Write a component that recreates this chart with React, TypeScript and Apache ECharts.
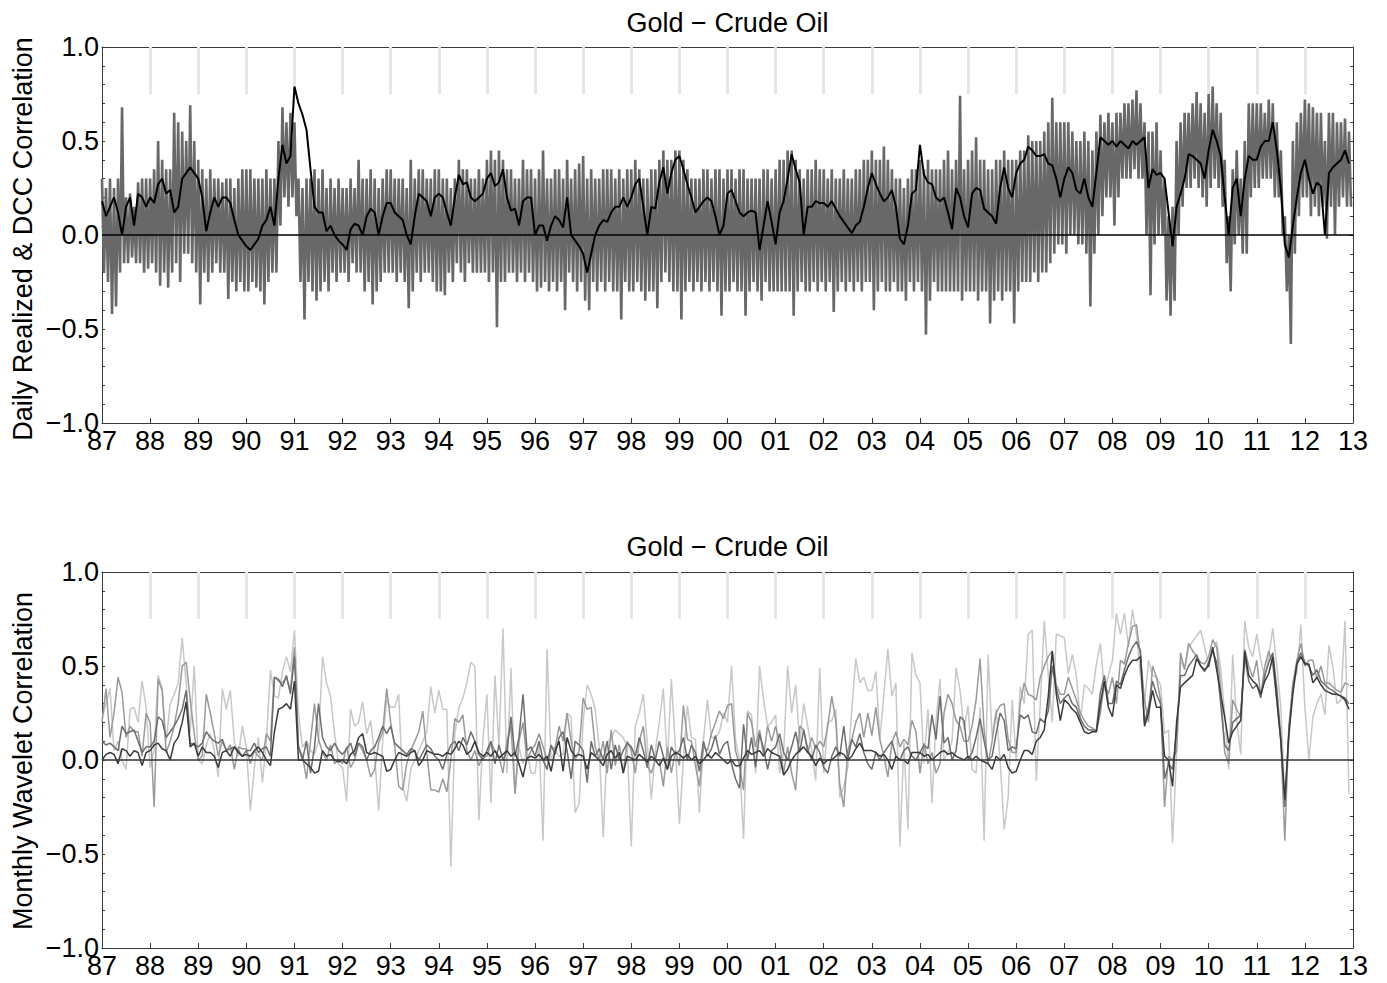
import React, { useEffect, useRef } from 'react';
import * as echarts from 'echarts';

// ---------- data (monthly, Jan 1987 .. Dec 2012) ----------
const START_YEAR = 1987;
const X_MIN = 1987;
const X_MAX = 2013;
const YEAR_MARKS = [1988, 1989, 1990, 1991, 1992, 1993, 1994, 1995, 1996, 1997, 1998, 1999, 2000,
  2001, 2002, 2003, 2004, 2005, 2006, 2007, 2008, 2009, 2010, 2011, 2012];
const TITLE = 'Gold \u2212 Crude Oil';
const Y_NAME_TOP = 'Daily Realized & DCC Correlation';
const Y_NAME_BOTTOM = 'Monthly Wavelet Correlation';

// DCC correlation (black line, top panel)
const DCC = [
  0.18, 0.1, 0.15, 0.2, 0.12, 0.0, 0.15, 0.2, 0.05, 0.22, 0.2, 0.15,
  0.2, 0.17, 0.27, 0.3, 0.22, 0.24, 0.12, 0.15, 0.3, 0.33, 0.36, 0.33,
  0.3, 0.2, 0.02, 0.12, 0.2, 0.15, 0.2, 0.2, 0.17, 0.08, 0.0, -0.03,
  -0.06, -0.08, -0.05, -0.02, 0.05, 0.08, 0.15, 0.05, 0.3, 0.48, 0.38, 0.42,
  0.79, 0.7, 0.64, 0.56, 0.35, 0.15, 0.12, 0.12, 0.02, 0.05, 0.0, -0.03,
  -0.05, -0.08, 0.03, 0.06, 0.05, 0.0, 0.1, 0.14, 0.12, 0.0, 0.1, 0.17,
  0.17, 0.12, 0.1, 0.08, 0.0, -0.05, 0.1, 0.22, 0.2, 0.18, 0.1, 0.2,
  0.22, 0.2, 0.12, 0.05, 0.2, 0.32, 0.27, 0.28, 0.2, 0.18, 0.2, 0.22,
  0.3, 0.33, 0.26, 0.28, 0.35, 0.2, 0.13, 0.14, 0.05, 0.18, 0.2, 0.2,
  0.0, 0.05, 0.05, -0.03, 0.05, 0.1, 0.08, 0.04, 0.2, 0.0, -0.03, -0.06,
  -0.1, -0.2, -0.1, 0.0, 0.05, 0.08, 0.07, 0.12, 0.15, 0.15, 0.2, 0.15,
  0.2, 0.27, 0.3, 0.15, 0.0, 0.15, 0.14, 0.28, 0.36, 0.22, 0.33, 0.4,
  0.42, 0.35, 0.27, 0.2, 0.12, 0.15, 0.18, 0.2, 0.18, 0.1, 0.0, 0.05,
  0.22, 0.24, 0.18, 0.12, 0.1, 0.12, 0.13, 0.12, -0.08, 0.05, 0.18, 0.07,
  -0.05, 0.12, 0.18, 0.3, 0.43, 0.35, 0.28, 0.0, 0.15, 0.15, 0.18, 0.17,
  0.17, 0.15, 0.18, 0.14, 0.1, 0.07, 0.04, 0.01, 0.05, 0.07, 0.15, 0.25,
  0.33, 0.27, 0.22, 0.18, 0.2, 0.24, 0.15, -0.02, -0.05, 0.05, 0.22, 0.24,
  0.48, 0.32, 0.28, 0.27, 0.2, 0.18, 0.2, 0.12, 0.03, 0.25, 0.2, 0.1,
  0.04, 0.22, 0.25, 0.24, 0.14, 0.12, 0.1, 0.06, 0.25, 0.36, 0.25, 0.2,
  0.33, 0.38, 0.4, 0.47, 0.45, 0.42, 0.42, 0.43, 0.38, 0.37, 0.3, 0.2,
  0.3, 0.36, 0.33, 0.24, 0.22, 0.3, 0.2, 0.15, 0.33, 0.52, 0.5, 0.48,
  0.5, 0.47, 0.5, 0.48, 0.46, 0.5, 0.48, 0.5, 0.52, 0.25, 0.35, 0.32,
  0.33, 0.3, 0.12, -0.06, 0.15, 0.22, 0.3, 0.43, 0.42, 0.4, 0.38, 0.3,
  0.45, 0.56, 0.5, 0.42, 0.2, 0.0, 0.25, 0.3, 0.1, 0.3, 0.42, 0.4,
  0.4, 0.47, 0.5, 0.5, 0.6, 0.45, 0.25, -0.05, -0.12, 0.05, 0.2, 0.33,
  0.4, 0.3, 0.22, 0.28, 0.26, 0.0, 0.33, 0.36, 0.38, 0.4, 0.45, 0.38,
];

// Daily realized correlation: monthly upper and lower extent of the gray band
const RC_HIGH = [
  0.3, 0.25, 0.3, 0.25, 0.3, 0.68, 0.2, 0.22, 0.15, 0.28, 0.3, 0.3,
  0.3, 0.35, 0.5, 0.4, 0.35, 0.35, 0.65, 0.6, 0.55, 0.5, 0.69, 0.5,
  0.4, 0.35, 0.3, 0.35, 0.3, 0.3, 0.28, 0.3, 0.3, 0.25, 0.3, 0.35,
  0.35, 0.35, 0.3, 0.3, 0.3, 0.35, 0.3, 0.3, 0.5, 0.68, 0.6, 0.65,
  0.6, 0.3, 0.25, 0.3, 0.3, 0.35, 0.3, 0.35, 0.25, 0.3, 0.25, 0.3,
  0.25, 0.25, 0.3, 0.25, 0.4, 0.3, 0.3, 0.35, 0.3, 0.25, 0.3, 0.35,
  0.35, 0.3, 0.3, 0.3, 0.25, 0.4, 0.3, 0.35, 0.35, 0.3, 0.3, 0.35,
  0.35, 0.3, 0.3, 0.25, 0.3, 0.4, 0.35, 0.35, 0.3, 0.3, 0.35, 0.3,
  0.4, 0.45, 0.4, 0.45, 0.4, 0.35, 0.35, 0.3, 0.3, 0.4, 0.35, 0.35,
  0.3, 0.35, 0.45, 0.3, 0.3, 0.35, 0.35, 0.3, 0.4, 0.3, 0.35, 0.38,
  0.42, 0.3, 0.35, 0.3, 0.3, 0.35, 0.35, 0.35, 0.3, 0.35, 0.3, 0.35,
  0.35, 0.4, 0.35, 0.3, 0.3, 0.35, 0.35, 0.4, 0.45, 0.4, 0.4, 0.45,
  0.45, 0.4, 0.35, 0.3, 0.3, 0.3, 0.35, 0.35, 0.3, 0.35, 0.35, 0.3,
  0.35, 0.35, 0.3, 0.35, 0.35, 0.3, 0.3, 0.3, 0.3, 0.35, 0.35, 0.3,
  0.35, 0.4, 0.4, 0.45, 0.45, 0.4, 0.35, 0.3, 0.35, 0.35, 0.4, 0.35,
  0.35, 0.3, 0.35, 0.3, 0.3, 0.35, 0.3, 0.3, 0.35, 0.35, 0.4, 0.4,
  0.45, 0.4, 0.4, 0.47, 0.4, 0.35, 0.3, 0.3, 0.25, 0.3, 0.35, 0.35,
  0.4, 0.35, 0.4, 0.35, 0.35, 0.35, 0.4, 0.45, 0.35, 0.4, 0.74, 0.35,
  0.4, 0.45, 0.52, 0.4, 0.4, 0.35, 0.35, 0.4, 0.4, 0.45, 0.4, 0.4,
  0.4, 0.45, 0.45, 0.53, 0.5, 0.5, 0.5, 0.55, 0.6, 0.73, 0.6, 0.6,
  0.6, 0.6, 0.55, 0.5, 0.5, 0.55, 0.5, 0.45, 0.55, 0.64, 0.6, 0.65,
  0.6, 0.65, 0.65, 0.7, 0.7, 0.72, 0.77, 0.7, 0.6, 0.55, 0.55, 0.6,
  0.45, 0.3, 0.1, 0.15, 0.5, 0.6, 0.65, 0.65, 0.7, 0.76, 0.7, 0.65,
  0.75, 0.79, 0.7, 0.65, 0.4, 0.1, 0.35, 0.45, 0.3, 0.5, 0.7, 0.7,
  0.7, 0.7, 0.65, 0.72, 0.7, 0.6, 0.45, 0.1, 0.0, 0.5, 0.6, 0.65,
  0.72, 0.7, 0.68, 0.65, 0.65, 0.5, 0.65, 0.65, 0.6, 0.6, 0.62, 0.55,
];
const RC_LOW = [
  -0.2, -0.25, -0.42, -0.38, -0.2, -0.15, -0.15, -0.12, -0.15, -0.15, -0.2, -0.18,
  -0.15, -0.2, -0.27, -0.2, -0.28, -0.2, -0.15, -0.25, -0.1, -0.1, -0.15, -0.2,
  -0.37, -0.2, -0.25, -0.2, -0.15, -0.2, -0.2, -0.34, -0.25, -0.3, -0.25, -0.3,
  -0.3, -0.25, -0.28, -0.3, -0.37, -0.25, -0.2, -0.2, 0.05, 0.2, 0.15, 0.2,
  0.1, -0.25, -0.45, -0.25, -0.3, -0.35, -0.3, -0.25, -0.3, -0.2, -0.25, -0.2,
  -0.2, -0.25, -0.15, -0.2, -0.2, -0.3, -0.25, -0.37, -0.3, -0.25, -0.2, -0.2,
  -0.2, -0.25, -0.2, -0.25, -0.39, -0.3, -0.2, -0.25, -0.2, -0.2, -0.25, -0.3,
  -0.3, -0.32, -0.2, -0.25, -0.15, -0.2, -0.25, -0.15, -0.2, -0.2, -0.2, -0.2,
  -0.25, -0.2, -0.49, -0.25, -0.25, -0.2, -0.2, -0.25, -0.2, -0.25, -0.2, -0.25,
  -0.3, -0.28, -0.25, -0.3, -0.25, -0.3, -0.25, -0.4, -0.2, -0.25, -0.3, -0.25,
  -0.35, -0.4, -0.25, -0.3, -0.25, -0.3, -0.25, -0.3, -0.3, -0.45, -0.25, -0.3,
  -0.3, -0.25, -0.3, -0.35, -0.3, -0.3, -0.39, -0.25, -0.2, -0.25, -0.3, -0.3,
  -0.45, -0.3, -0.25, -0.3, -0.25, -0.3, -0.25, -0.3, -0.25, -0.3, -0.43, -0.3,
  -0.3, -0.25, -0.3, -0.3, -0.43, -0.3, -0.25, -0.3, -0.35, -0.25, -0.3, -0.3,
  -0.3, -0.3, -0.3, -0.3, -0.43, -0.3, -0.25, -0.3, -0.3, -0.25, -0.3, -0.25,
  -0.3, -0.25, -0.41, -0.3, -0.25, -0.3, -0.25, -0.3, -0.25, -0.3, -0.25, -0.25,
  -0.4, -0.3, -0.25, -0.3, -0.3, -0.25, -0.3, -0.3, -0.35, -0.25, -0.3, -0.25,
  -0.3, -0.53, -0.35, -0.25, -0.3, -0.3, -0.3, -0.3, -0.3, -0.3, -0.35, -0.3,
  -0.3, -0.3, -0.35, -0.3, -0.3, -0.47, -0.35, -0.3, -0.35, -0.3, -0.3, -0.47,
  -0.3, -0.25, -0.25, -0.25, -0.2, -0.25, -0.2, -0.2, -0.15, -0.1, -0.05, -0.05,
  -0.1, 0.0, 0.0, -0.05, -0.05, -0.1, -0.38, -0.1, 0.0, 0.1, 0.2, 0.2,
  0.05, 0.2, 0.3, 0.3, 0.3, 0.35, 0.3, 0.3, 0.0, -0.32, -0.05, 0.0,
  0.0, -0.35, -0.43, -0.35, 0.0, 0.15, 0.25, 0.25, 0.3, 0.25, 0.2, 0.15,
  0.25, 0.3, 0.25, 0.15, -0.15, -0.3, -0.05, 0.0, -0.1, -0.1, 0.2, 0.25,
  0.25, 0.3, 0.3, 0.3, 0.2, 0.2, 0.0, -0.3, -0.58, -0.1, 0.1, 0.2,
  0.2, 0.1, 0.15, 0.1, 0.15, -0.02, 0.15, 0.0, 0.15, 0.2, 0.15, 0.15,
];

// Monthly wavelet correlations (bottom panel), darkest to lightest
const WAVE_1 = [
  0.0, 0.03, 0.04, 0.03, -0.02, 0.06, 0.05, 0.02, 0.05, 0.04, -0.03, 0.04,
  0.05, 0.08, 0.09, 0.06, 0.05, 0.0, 0.09, 0.12, 0.2, 0.31, 0.07, 0.09,
  0.02, 0.07, 0.04, 0.04, 0.02, -0.04, 0.04, 0.05, 0.02, 0.07, 0.04, 0.02,
  0.03, 0.02, 0.05, 0.07, 0.04, 0.0, -0.03, 0.15, 0.27, 0.28, 0.3, 0.27,
  0.42, 0.0, 0.0, -0.02, -0.04, -0.07, -0.06, 0.05, 0.02, 0.03, 0.0, -0.01,
  0.0, -0.02, 0.03, 0.05, 0.12, 0.14, 0.04, 0.03, 0.04, 0.03, 0.02, -0.06,
  -0.05, 0.0, 0.04, 0.03, 0.02, 0.04, 0.05, -0.03, 0.0, 0.05, 0.04, 0.03,
  0.03, 0.02, 0.04, 0.03, 0.06, 0.1, 0.08, 0.03, 0.05, 0.1, 0.04, 0.02,
  0.04, 0.02, 0.05, 0.01, 0.03, 0.05, 0.02, 0.04, -0.02, -0.09, 0.01, 0.02,
  0.01, 0.03, 0.0, 0.02, -0.06, 0.05, 0.1, -0.06, 0.12, 0.05, 0.02, 0.03,
  0.02, -0.05, 0.04, 0.02, 0.0, -0.03, 0.03, 0.05, 0.01, 0.04, -0.07, 0.02,
  0.01, 0.0, 0.03, 0.01, -0.01, 0.02, 0.0, -0.03, 0.01, -0.05, 0.02, 0.04,
  0.03, 0.01, 0.03, 0.0, 0.02, -0.02, 0.0, 0.03, 0.01, 0.04, 0.02, 0.0,
  -0.02, 0.0, -0.03, -0.03, 0.01, 0.05, 0.03, 0.04, 0.05, 0.02, 0.06, 0.04,
  0.03, 0.02, -0.08, -0.05, 0.0, 0.03, 0.05, 0.07, 0.04, 0.02, -0.03, 0.01,
  -0.02, 0.0, 0.0, 0.02, 0.04, 0.03, 0.0, 0.02, 0.06, 0.09, 0.05, 0.05,
  0.05, 0.04, 0.02, 0.03, 0.0, -0.05, 0.02, 0.0, 0.0, -0.02, 0.04, 0.04,
  0.04, 0.02, 0.03, 0.0, 0.02, 0.04, 0.05, 0.03, 0.04, 0.02, 0.01, 0.0,
  0.02, 0.0, 0.02, 0.0, -0.01, -0.02, -0.05, 0.02, 0.0, 0.03, -0.04, -0.07,
  -0.06, 0.0, 0.05, 0.05, 0.03, 0.1, 0.12, 0.16, 0.34, 0.58, 0.35, 0.21,
  0.32, 0.3, 0.27, 0.25, 0.2, 0.15, 0.14, 0.15, 0.15, 0.3, 0.42, 0.28,
  0.23, 0.4, 0.38, 0.45, 0.5, 0.53, 0.53, 0.55, 0.18, 0.25, 0.37, 0.28,
  0.28, 0.02, 0.0, -0.14, 0.2, 0.39, 0.41, 0.43, 0.45, 0.54, 0.5, 0.48,
  0.5, 0.6, 0.48, 0.35, 0.23, 0.09, 0.15, 0.18, 0.21, 0.58, 0.45, 0.42,
  0.4, 0.35, 0.42, 0.46, 0.55, 0.32, 0.1, -0.21, 0.14, 0.35, 0.51, 0.55,
  0.51, 0.51, 0.41, 0.44, 0.4, 0.37, 0.36, 0.35, 0.35, 0.34, 0.32, 0.27,
];
const WAVE_2 = [
  0.1, 0.08, 0.09, 0.07, 0.05, 0.18, 0.14, 0.15, 0.16, 0.1, 0.04, 0.07,
  0.07, 0.1, 0.23, 0.21, 0.12, 0.15, 0.18, 0.22, 0.27, 0.37, 0.09, 0.08,
  0.07, 0.09, 0.15, 0.12, 0.1, 0.09, 0.11, 0.05, 0.06, 0.07, 0.05, 0.02,
  0.05, 0.05, 0.09, 0.04, 0.06, 0.07, 0.02, 0.44, 0.43, 0.39, 0.45, 0.35,
  0.55, 0.07, 0.0, 0.1, -0.07, 0.07, 0.3, 0.12, 0.07, 0.05, 0.09, 0.05,
  0.03, 0.06, 0.09, 0.02, 0.09, 0.07, 0.0, 0.05, 0.07, 0.12, 0.18, 0.14,
  0.18, 0.09, 0.07, 0.05, 0.03, 0.06, 0.05, 0.0, 0.04, 0.08, 0.06, 0.02,
  0.0, -0.05, 0.03, 0.08, 0.1, 0.05, 0.12, 0.08, 0.15, 0.1, 0.03, 0.0,
  0.05, 0.1, -0.02, 0.08, 0.0, 0.05, 0.23, 0.02, 0.12, 0.35, 0.05, 0.07,
  0.02, 0.1, 0.0, -0.05, 0.08, 0.03, 0.12, 0.15, 0.05, -0.1, 0.1, 0.08,
  0.05, -0.12, 0.1, 0.02, 0.06, 0.0, 0.1, -0.05, 0.08, 0.0, 0.05, 0.09,
  0.07, 0.02, 0.12, 0.05, -0.04, 0.08, 0.0, 0.1, 0.02, -0.05, 0.07, 0.03,
  0.05, 0.12, 0.0, 0.08, 0.04, -0.06, 0.1, 0.02, 0.06, 0.13, 0.03, 0.08,
  0.1, -0.02, -0.1, -0.15, 0.19, 0.0, 0.12, -0.04, 0.14, 0.06, -0.05, 0.05,
  0.07, 0.14, 0.04, 0.0, 0.07, 0.15, 0.04, 0.16, 0.06, 0.0, 0.08, 0.04,
  -0.04, -0.07, 0.02, 0.07, 0.02, 0.18, 0.0, 0.11, 0.07, 0.14, 0.04, -0.02,
  -0.05, 0.04, 0.0, 0.04, 0.07, 0.1, 0.02, 0.0, 0.05, 0.07, 0.02, 0.0,
  0.04, 0.08, 0.06, 0.24, 0.11, 0.34, 0.09, 0.12, 0.0, 0.05, 0.23, 0.21,
  0.0, 0.04, 0.12, 0.22, 0.1, 0.0, 0.02, 0.14, 0.25, 0.21, 0.05, 0.07,
  0.06, 0.24, 0.22, 0.24, 0.15, 0.14, 0.22, 0.2, 0.26, 0.5, 0.38, 0.3,
  0.33, 0.35, 0.3, 0.28, 0.22, 0.18, 0.16, 0.16, 0.16, 0.36, 0.45, 0.3,
  0.3, 0.42, 0.4, 0.48, 0.55, 0.6, 0.63, 0.58, 0.2, 0.28, 0.42, 0.35,
  0.3, -0.1, -0.02, -0.05, 0.15, 0.45, 0.45, 0.5, 0.53, 0.56, 0.5, 0.47,
  0.52, 0.58, 0.52, 0.3, 0.08, 0.05, 0.2, 0.22, 0.24, 0.55, 0.42, 0.38,
  0.4, 0.33, 0.45, 0.52, 0.57, 0.38, 0.12, -0.25, 0.15, 0.38, 0.52, 0.57,
  0.52, 0.5, 0.45, 0.48, 0.42, 0.4, 0.38, 0.37, 0.35, 0.34, 0.33, 0.3,
];
const WAVE_3 = [
  0.2, 0.38, 0.12, 0.25, 0.44, 0.36, 0.12, 0.18, 0.15, 0.15, 0.02, 0.25,
  0.2, -0.25, 0.43, 0.37, 0.04, 0.1, 0.18, 0.3, 0.5, 0.52, 0.32, 0.14,
  0.0, 0.02, 0.35, 0.25, 0.14, 0.02, 0.1, 0.05, 0.08, -0.05, 0.07, 0.06,
  0.06, -0.02, 0.05, 0.02, 0.0, 0.14, 0.1, 0.44, 0.42, 0.41, 0.44, 0.37,
  0.6, 0.07, 0.02, -0.1, 0.1, 0.3, 0.11, 0.04, 0.0, 0.08, -0.02, 0.0,
  -0.02, 0.07, -0.04, 0.0, 0.09, 0.05, 0.0, -0.09, -0.05, 0.09, 0.15, 0.38,
  0.2, 0.07, -0.14, -0.16, -0.02, 0.05, 0.1, 0.15, 0.26, 0.04, -0.16, -0.16,
  -0.17, -0.1, -0.17, 0.0, 0.22, 0.2, 0.24, 0.05, 0.0, 0.05, -0.03, 0.02,
  0.02, 0.09, 0.05, 0.02, -0.07, 0.1, 0.18, -0.18, 0.1, 0.2, 0.0, 0.05,
  0.08, 0.14, 0.07, 0.0, 0.07, 0.06, 0.18, 0.1, 0.25, 0.1, 0.0, 0.05,
  0.33, 0.27, 0.28, 0.07, 0.0, 0.1, -0.07, 0.16, -0.03, 0.08, -0.07, 0.1,
  0.05, -0.07, 0.1, 0.18, -0.03, -0.07, 0.0, 0.0, -0.14, 0.07, -0.07, 0.05,
  -0.03, 0.29, 0.11, 0.1, -0.03, -0.14, 0.07, 0.05, 0.14, 0.2, 0.26, 0.22,
  0.29, 0.3, 0.05, -0.03, -0.16, 0.25, 0.2, 0.07, 0.16, 0.02, 0.18, 0.1,
  0.18, 0.09, -0.07, 0.07, -0.07, -0.16, 0.18, 0.16, 0.04, 0.12, 0.06, 0.1,
  0.07, 0.18, 0.34, 0.21, -0.13, -0.25, 0.05, 0.11, 0.2, 0.25, 0.12, 0.25,
  0.13, 0.28, 0.11, 0.02, -0.09, 0.09, 0.15, 0.07, 0.11, 0.08, 0.21, 0.15,
  -0.07, 0.09, -0.02, 0.04, -0.07, -0.02, 0.25, 0.35, 0.3, 0.21, 0.18, 0.1,
  0.1, 0.18, 0.32, 0.54, 0.16, -0.02, 0.1, 0.25, 0.29, 0.3, 0.11, 0.04,
  0.04, 0.3, 0.41, 0.35, 0.34, 0.32, 0.44, 0.5, 0.55, 0.58, 0.4, 0.35,
  0.35, 0.44, 0.38, 0.32, 0.25, 0.21, 0.18, 0.17, 0.15, 0.25, 0.41, 0.35,
  0.44, 0.3, 0.53, 0.51, 0.62, 0.71, 0.72, 0.55, 0.32, 0.2, 0.5, 0.44,
  0.32, -0.25, 0.02, 0.0, 0.05, 0.57, 0.48, 0.62, 0.58, 0.55, 0.52, 0.51,
  0.55, 0.64, 0.6, 0.39, 0.04, -0.02, 0.32, 0.27, 0.23, 0.59, 0.5, 0.44,
  0.53, 0.34, 0.5, 0.58, 0.5, 0.32, 0.1, -0.43, 0.18, 0.4, 0.53, 0.62,
  0.5, 0.53, 0.53, 0.43, 0.5, 0.41, 0.41, 0.39, 0.37, 0.36, 0.41, 0.4,
];
const WAVE_4 = [
  0.22, 0.3, 0.38, 0.05, 0.1, 0.0, -0.05, 0.27, 0.28, 0.2, 0.42, 0.28,
  -0.04, 0.05, 0.45, 0.38, 0.1, 0.3, 0.35, 0.41, 0.65, 0.4, 0.15, 0.5,
  0.0, -0.02, 0.08, 0.14, 0.05, -0.09, 0.38, 0.27, 0.37, 0.1, 0.02, 0.18,
  0.07, -0.27, -0.04, 0.12, -0.12, 0.1, 0.48, 0.34, 0.33, 0.47, 0.55, 0.47,
  0.69, 0.25, 0.07, 0.1, 0.05, 0.03, 0.1, 0.55, 0.41, 0.34, 0.14, -0.02,
  -0.04, -0.22, 0.27, 0.18, 0.2, 0.31, 0.14, 0.21, 0.02, -0.27, 0.1, 0.32,
  0.28, 0.28, 0.35, -0.14, -0.22, -0.05, 0.0, 0.05, 0.1, 0.15, 0.39, 0.25,
  0.37, 0.27, 0.27, -0.57, 0.14, 0.28, 0.33, 0.41, 0.52, 0.5, -0.32, 0.11,
  0.35, -0.23, 0.45, 0.07, 0.7, -0.07, 0.49, -0.18, 0.07, -0.02, 0.05, -0.07,
  -0.07, 0.09, -0.43, 0.59, 0.0, 0.05, 0.02, 0.03, 0.25, 0.23, -0.28, -0.23,
  0.21, 0.4, 0.35, 0.27, 0.07, -0.41, 0.09, 0.12, 0.16, 0.14, 0.12, 0.07,
  -0.46, 0.18, 0.25, 0.35, 0.09, -0.21, 0.05, 0.2, 0.38, -0.02, 0.43, 0.07,
  -0.34, 0.0, 0.29, 0.12, 0.11, -0.28, 0.11, 0.32, 0.12, 0.12, 0.15, 0.25,
  0.2, 0.5, 0.11, 0.0, -0.42, 0.26, 0.24, -0.07, 0.5, 0.32, 0.18, 0.2,
  0.24, -0.07, 0.04, 0.5, 0.25, 0.4, 0.09, 0.3, 0.18, 0.05, -0.11, 0.49,
  -0.07, 0.2, 0.21, 0.27, -0.2, -0.14, -0.04, 0.27, 0.54, 0.41, 0.44, 0.37,
  0.37, 0.47, 0.11, 0.35, 0.59, 0.34, 0.41, -0.46, 0.09, -0.37, 0.57, 0.45,
  0.41, -0.02, 0.27, -0.23, 0.21, 0.43, 0.0, 0.04, 0.1, 0.49, 0.37, 0.16,
  0.29, -0.05, -0.07, 0.28, -0.43, 0.56, 0.12, 0.27, 0.0, -0.37, -0.2, 0.32,
  0.0, 0.39, 0.3, 0.67, 0.69, -0.11, 0.3, 0.74, 0.45, 0.2, 0.67, 0.66,
  0.65, 0.46, 0.56, 0.45, 0.21, 0.4, 0.38, 0.35, 0.51, 0.62, 0.37, 0.45,
  0.53, 0.78, 0.67, 0.78, 0.6, 0.8, 0.67, 0.45, 0.3, 0.53, 0.45, 0.44,
  0.4, 0.14, 0.16, -0.44, 0.03, 0.53, 0.49, 0.6, 0.63, 0.66, 0.69, 0.6,
  0.51, 0.58, 0.63, 0.49, 0.24, -0.05, 0.56, 0.21, 0.03, 0.74, 0.6, 0.55,
  0.67, 0.53, 0.44, 0.55, 0.7, 0.5, 0.28, -0.21, 0.09, 0.42, 0.46, 0.72,
  0.28, 0.0, 0.23, 0.3, 0.35, 0.24, 0.61, 0.49, 0.3, 0.32, 0.74, -0.18,
];

// ---------- helpers ----------
const FONT = '"Liberation Sans", Arial, Helvetica, sans-serif';
const AXIS_COLOR = '#3a3a3a';

const monthly = (vals: number[]) => vals.map((v, i) => [START_YEAR + i / 12, v]);
const band = (hi: number[], lo: number[]) => {
  const out: number[][] = [];
  hi.forEach((h, i) => {
    out.push([START_YEAR + i / 12, h]);
    out.push([START_YEAR + (i + 0.5) / 12, lo[i]]);
  });
  return out;
};

const yearLabel = (v: number) => String(Math.round(v) % 100).padStart(2, '0');
const corrLabel = (v: number) => (v < 0 ? '\u2212' : '') + Math.abs(v).toFixed(1);

const xAxisDef = (gridIndex: number, position: 'top' | 'bottom') => ({
  type: 'value',
  gridIndex,
  position,
  min: X_MIN,
  max: X_MAX,
  interval: 1,
  axisLine: { show: true, onZero: false, lineStyle: { color: AXIS_COLOR, width: 1 } },
  axisTick: { show: true, inside: true, length: 5, lineStyle: { color: AXIS_COLOR, width: 1 } },
  axisLabel: {
    show: position === 'bottom',
    margin: 4,
    fontSize: 27,
    fontFamily: FONT,
    color: '#000',
    formatter: yearLabel,
  },
  splitLine: { show: false },
});

const yAxisDef = (gridIndex: number, position: 'left' | 'right') => ({
  type: 'value',
  gridIndex,
  position,
  min: -1,
  max: 1,
  interval: 0.5,
  axisLine: { show: true, onZero: false, lineStyle: { color: AXIS_COLOR, width: 1 } },
  axisTick: { show: true, inside: true, length: 3, lineStyle: { color: AXIS_COLOR, width: 1 } },
  minorTick: { show: true, splitNumber: 5, length: 3, lineStyle: { color: AXIS_COLOR, width: 1 } },
  axisLabel: {
    show: position === 'left',
    margin: 3,
    fontSize: 27,
    fontFamily: FONT,
    color: '#000',
    formatter: corrLabel,
  },
  splitLine: { show: false },
  minorSplitLine: { show: false },
});

const zeroLine = (color: string) => ({
  silent: true,
  symbol: ['none', 'none'],
  label: { show: false },
  emphasis: { disabled: true },
  lineStyle: { color, width: 1.5, type: 'solid' },
  data: [{ yAxis: 0 }],
});

const yearMarks = (axisIndex: number) => ({
  type: 'lines',
  coordinateSystem: 'cartesian2d',
  xAxisIndex: axisIndex,
  yAxisIndex: axisIndex,
  silent: true,
  z: 1,
  lineStyle: { color: '#e6e6e6', width: 3, opacity: 1 },
  data: YEAR_MARKS.map((y) => ({ coords: [[y, 0.75], [y, 1]] })),
});

const lineSeries = (xi: number, data: number[][], color: string, width: number, z: number, extra = {}) => ({
  type: 'line',
  xAxisIndex: xi,
  yAxisIndex: xi,
  data,
  showSymbol: false,
  symbol: 'none',
  silent: true,
  z,
  lineStyle: { color, width },
  emphasis: { disabled: true },
  ...extra,
});

const textEl = (text: string, x: number, y: number, rotation = 0) => ({
  type: 'text',
  x,
  y,
  rotation,
  silent: true,
  style: {
    text,
    fill: '#000',
    fontSize: 27,
    fontFamily: FONT,
    align: 'center',
    verticalAlign: 'middle',
    textAlign: 'center',
    textVerticalAlign: 'middle',
  },
});

export default function App() {
  const ref = useRef<HTMLDivElement>(null);

  useEffect(() => {
    if (!ref.current) return;
    const chart = echarts.init(ref.current, undefined, { renderer: 'svg' });
    const option = {
      animation: false,
      backgroundColor: '#fff',
      grid: [
        { left: 102, top: 47, width: 1251, height: 376, containLabel: false },
        { left: 102, top: 572, width: 1251, height: 376, containLabel: false },
      ],
      xAxis: [xAxisDef(0, 'bottom'), xAxisDef(0, 'top'), xAxisDef(1, 'bottom'), xAxisDef(1, 'top')],
      yAxis: [yAxisDef(0, 'left'), yAxisDef(0, 'right'), yAxisDef(1, 'left'), yAxisDef(1, 'right')],
      series: [
        yearMarks(0),
        yearMarks(2),
        lineSeries(0, band(RC_HIGH, RC_LOW), '#686868', 2.6, 2),
        lineSeries(0, monthly(DCC), '#000000', 2, 4, { markLine: zeroLine('#000') }),
        lineSeries(2, monthly(WAVE_4), '#c8c8c8', 1.5, 2),
        lineSeries(2, monthly(WAVE_3), '#9a9a9a', 1.5, 3),
        lineSeries(2, monthly(WAVE_2), '#6e6e6e', 1.5, 4),
        lineSeries(2, monthly(WAVE_1), '#3a3a3a', 1.5, 5, { markLine: zeroLine('#333') }),
      ],
      graphic: [
        textEl(TITLE, 727.5, 22.5),
        textEl(TITLE, 727.5, 547),
        textEl(Y_NAME_TOP, 22.5, 239, Math.PI / 2),
        textEl(Y_NAME_BOTTOM, 22.5, 761, Math.PI / 2),
      ],
    };
    chart.setOption(option as any);
    return () => chart.dispose();
  }, []);

  return (
    <div
      ref={ref}
      style={{ position: 'fixed', left: 0, top: 0, width: 1387, height: 983, background: '#fff' }}
    />
  );
}
